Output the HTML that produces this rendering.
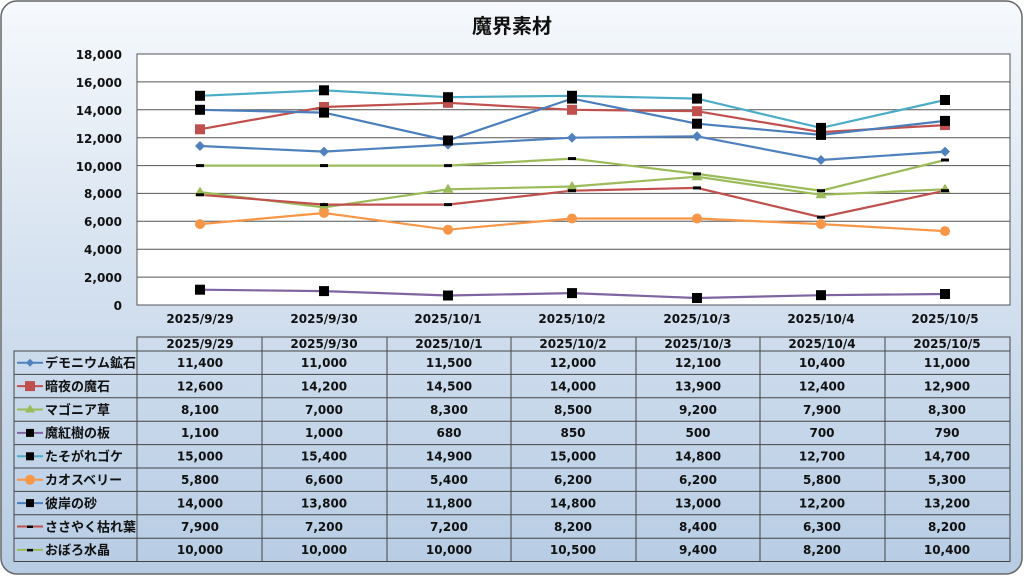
<!DOCTYPE html>
<html><head><meta charset="utf-8"><style>
html,body{margin:0;padding:0;width:1024px;height:576px;overflow:hidden;background:#fff}
svg{display:block}
text{font-family:"DejaVu Sans","Noto Sans CJK JP",sans-serif;font-weight:bold;fill:#111}
</style></head><body>
<svg width="1024" height="576" viewBox="0 0 1024 576" xmlns="http://www.w3.org/2000/svg">
<defs>
<linearGradient id="bg" x1="0" y1="0" x2="0" y2="1">
<stop offset="0" stop-color="#f6f9fc"/><stop offset="0.5" stop-color="#d3e0ef"/><stop offset="1" stop-color="#b7cce4"/>
</linearGradient>
<g id="sq"><rect x="-5" y="-5" width="10" height="10" fill="#000"/></g>
</defs>
<rect x="1" y="1" width="1021" height="573" rx="16" fill="url(#bg)" stroke="#666" stroke-width="1.5"/>
<text x="512" y="33" font-size="20" text-anchor="middle" font-family="Noto Sans CJK JP, sans-serif">魔界素材</text>
<rect x="137" y="54" width="873" height="251" fill="#fff" stroke="#555" stroke-width="1"/>
<g stroke="#555" stroke-width="1">
<line x1="137" x2="1010" y1="277.1" y2="277.1"/><line x1="137" x2="1010" y1="249.2" y2="249.2"/>
<line x1="137" x2="1010" y1="221.3" y2="221.3"/><line x1="137" x2="1010" y1="193.4" y2="193.4"/>
<line x1="137" x2="1010" y1="165.6" y2="165.6"/><line x1="137" x2="1010" y1="137.7" y2="137.7"/>
<line x1="137" x2="1010" y1="109.8" y2="109.8"/><line x1="137" x2="1010" y1="81.9" y2="81.9"/>
</g>
<g font-size="12" text-anchor="end">
<text x="122" y="59">18,000</text><text x="122" y="87">16,000</text><text x="122" y="115">14,000</text>
<text x="122" y="143">12,000</text><text x="122" y="171">10,000</text><text x="122" y="198">8,000</text>
<text x="122" y="226">6,000</text><text x="122" y="254">4,000</text><text x="122" y="282">2,000</text>
<text x="122" y="310">0</text>
</g>
<g font-size="12" text-anchor="middle">
<text x="200" y="323">2025/9/29</text><text x="324" y="323">2025/9/30</text><text x="448" y="323">2025/10/1</text>
<text x="572" y="323">2025/10/2</text><text x="697" y="323">2025/10/3</text><text x="821" y="323">2025/10/4</text><text x="945" y="323">2025/10/5</text>
</g>
<g fill="none" stroke-width="2.2">
<polyline stroke="#4f81bd" points="200,146 324,151.6 448,144.6 572,137.7 697,136.3 821,160 945,151.6"/>
<polyline stroke="#c0504d" points="200,129.3 324,107 448,102.8 572,109.8 697,111.2 821,132.1 945,125.1"/>
<polyline stroke="#9bbb59" points="200,192.1 324,207.4 448,189.3 572,186.5 697,176.7 821,194.8 945,189.3"/>
<polyline stroke="#8064a2" points="200,289.7 324,291.1 448,295.5 572,293.1 697,298 821,295.2 945,294"/>
<polyline stroke="#4bacc6" points="200,95.8 324,90.3 448,97.2 572,95.8 697,98.6 821,127.9 945,100"/>
<polyline stroke="#f79646" points="200,224.1 324,213 448,229.7 572,218.5 697,218.5 821,224.1 945,231.1"/>
<polyline stroke="#4a7ebb" points="200,109.8 324,112.6 448,140.5 572,98.6 697,123.7 821,134.9 945,120.9"/>
<polyline stroke="#c0504d" points="200,194.8 324,204.6 448,204.6 572,190.7 697,187.9 821,217.2 945,190.7"/>
<polyline stroke="#9bbb59" points="200,165.6 324,165.6 448,165.6 572,158.6 697,173.9 821,190.7 945,160"/>
</g>
<g fill="#4f81bd">
<path d="M200,141l5,5l-5,5l-5,-5z"/><path d="M324,146.6l5,5l-5,5l-5,-5z"/><path d="M448,139.6l5,5l-5,5l-5,-5z"/>
<path d="M572,132.7l5,5l-5,5l-5,-5z"/><path d="M697,131.3l5,5l-5,5l-5,-5z"/><path d="M821,155l5,5l-5,5l-5,-5z"/><path d="M945,146.6l5,5l-5,5l-5,-5z"/>
</g>
<g fill="#c0504d">
<rect x="195" y="124.3" width="10" height="10"/><rect x="319" y="102" width="10" height="10"/><rect x="443" y="97.8" width="10" height="10"/>
<rect x="567" y="104.8" width="10" height="10"/><rect x="692" y="106.2" width="10" height="10"/><rect x="816" y="127.1" width="10" height="10"/><rect x="940" y="120.1" width="10" height="10"/>
</g>
<g fill="#9bbb59">
<path d="M200,186.6l5.5,9h-11z"/><path d="M324,201.9l5.5,9h-11z"/><path d="M448,183.8l5.5,9h-11z"/><path d="M572,181l5.5,9h-11z"/>
<path d="M697,171.2l5.5,9h-11z"/><path d="M821,189.3l5.5,9h-11z"/><path d="M945,183.8l5.5,9h-11z"/>
</g>
<g>
<use href="#sq" x="200" y="289.7"/><use href="#sq" x="324" y="291.1"/><use href="#sq" x="448" y="295.5"/><use href="#sq" x="572" y="293.1"/>
<use href="#sq" x="697" y="298"/><use href="#sq" x="821" y="295.2"/><use href="#sq" x="945" y="294"/>
<use href="#sq" x="200" y="95.8"/><use href="#sq" x="324" y="90.3"/><use href="#sq" x="448" y="97.2"/><use href="#sq" x="572" y="95.8"/>
<use href="#sq" x="697" y="98.6"/><use href="#sq" x="821" y="127.9"/><use href="#sq" x="945" y="100"/>
<use href="#sq" x="200" y="109.8"/><use href="#sq" x="324" y="112.6"/><use href="#sq" x="448" y="140.5"/><use href="#sq" x="572" y="98.6"/>
<use href="#sq" x="697" y="123.7"/><use href="#sq" x="821" y="134.9"/><use href="#sq" x="945" y="120.9"/>
</g>
<g fill="#f79646">
<circle cx="200" cy="224.1" r="5"/><circle cx="324" cy="213" r="5"/><circle cx="448" cy="229.7" r="5"/><circle cx="572" cy="218.5" r="5"/>
<circle cx="697" cy="218.5" r="5"/><circle cx="821" cy="224.1" r="5"/><circle cx="945" cy="231.1" r="5"/>
</g>
<g fill="#000">
<rect x="196" y="193.3" width="8" height="3"/><rect x="320" y="203.1" width="8" height="3"/><rect x="444" y="203.1" width="8" height="3"/><rect x="568" y="189.2" width="8" height="3"/>
<rect x="693" y="186.4" width="8" height="3"/><rect x="817" y="215.7" width="8" height="3"/><rect x="941" y="189.2" width="8" height="3"/>
<rect x="196" y="164.1" width="8" height="3"/><rect x="320" y="164.1" width="8" height="3"/><rect x="444" y="164.1" width="8" height="3"/><rect x="568" y="157.1" width="8" height="3"/>
<rect x="693" y="172.4" width="8" height="3"/><rect x="817" y="189.2" width="8" height="3"/><rect x="941" y="158.5" width="8" height="3"/>
</g>
<g stroke="#444" stroke-width="1" fill="none">
<rect x="137" y="337" width="873" height="224.5"/>
<rect x="14" y="351" width="123" height="210.5"/>
<line x1="14" x2="1010" y1="351" y2="351"/><line x1="14" x2="1010" y1="374.4" y2="374.4"/><line x1="14" x2="1010" y1="397.8" y2="397.8"/>
<line x1="14" x2="1010" y1="421.2" y2="421.2"/><line x1="14" x2="1010" y1="444.6" y2="444.6"/><line x1="14" x2="1010" y1="468" y2="468"/>
<line x1="14" x2="1010" y1="491.4" y2="491.4"/><line x1="14" x2="1010" y1="514.8" y2="514.8"/><line x1="14" x2="1010" y1="538.2" y2="538.2"/>
<line x1="262" x2="262" y1="337" y2="561.5"/><line x1="387" x2="387" y1="337" y2="561.5"/><line x1="511" x2="511" y1="337" y2="561.5"/>
<line x1="636" x2="636" y1="337" y2="561.5"/><line x1="760" x2="760" y1="337" y2="561.5"/><line x1="885" x2="885" y1="337" y2="561.5"/>
</g>
<g font-size="12" text-anchor="middle">
<text x="200" y="348">2025/9/29</text><text x="324" y="348">2025/9/30</text><text x="449" y="348">2025/10/1</text>
<text x="573" y="348">2025/10/2</text><text x="698" y="348">2025/10/3</text><text x="822" y="348">2025/10/4</text><text x="947" y="348">2025/10/5</text>
</g>
<g font-size="12" text-anchor="middle">
<g transform="translate(0,367)"><text x="200">11,400</text><text x="324">11,000</text><text x="449">11,500</text><text x="573">12,000</text><text x="698">12,100</text><text x="822">10,400</text><text x="947">11,000</text></g>
<g transform="translate(0,390.4)"><text x="200">12,600</text><text x="324">14,200</text><text x="449">14,500</text><text x="573">14,000</text><text x="698">13,900</text><text x="822">12,400</text><text x="947">12,900</text></g>
<g transform="translate(0,413.8)"><text x="200">8,100</text><text x="324">7,000</text><text x="449">8,300</text><text x="573">8,500</text><text x="698">9,200</text><text x="822">7,900</text><text x="947">8,300</text></g>
<g transform="translate(0,437.2)"><text x="200">1,100</text><text x="324">1,000</text><text x="449">680</text><text x="573">850</text><text x="698">500</text><text x="822">700</text><text x="947">790</text></g>
<g transform="translate(0,460.6)"><text x="200">15,000</text><text x="324">15,400</text><text x="449">14,900</text><text x="573">15,000</text><text x="698">14,800</text><text x="822">12,700</text><text x="947">14,700</text></g>
<g transform="translate(0,484)"><text x="200">5,800</text><text x="324">6,600</text><text x="449">5,400</text><text x="573">6,200</text><text x="698">6,200</text><text x="822">5,800</text><text x="947">5,300</text></g>
<g transform="translate(0,507.4)"><text x="200">14,000</text><text x="324">13,800</text><text x="449">11,800</text><text x="573">14,800</text><text x="698">13,000</text><text x="822">12,200</text><text x="947">13,200</text></g>
<g transform="translate(0,530.8)"><text x="200">7,900</text><text x="324">7,200</text><text x="449">7,200</text><text x="573">8,200</text><text x="698">8,400</text><text x="822">6,300</text><text x="947">8,200</text></g>
<g transform="translate(0,554.2)"><text x="200">10,000</text><text x="324">10,000</text><text x="449">10,000</text><text x="573">10,500</text><text x="698">9,400</text><text x="822">8,200</text><text x="947">10,400</text></g>
</g>
<g stroke-width="2">
<line x1="17" x2="43" y1="362.7" y2="362.7" stroke="#4f81bd"/><path d="M30,358.7l4,4l-4,4l-4,-4z" fill="#4f81bd"/>
<line x1="17" x2="43" y1="386.1" y2="386.1" stroke="#c0504d"/><rect x="25" y="381.1" width="10" height="10" fill="#c0504d"/>
<line x1="17" x2="43" y1="409.5" y2="409.5" stroke="#9bbb59"/><path d="M30,404.5l5,8h-10z" fill="#9bbb59"/>
<line x1="17" x2="43" y1="432.9" y2="432.9" stroke="#8064a2"/><rect x="26" y="428.9" width="8" height="8" fill="#000"/>
<line x1="17" x2="43" y1="456.3" y2="456.3" stroke="#4bacc6"/><rect x="26" y="452.3" width="8" height="8" fill="#000"/>
<line x1="17" x2="43" y1="479.7" y2="479.7" stroke="#f79646"/><circle cx="30" cy="479.7" r="5" fill="#f79646"/>
<line x1="17" x2="43" y1="503.1" y2="503.1" stroke="#4a7ebb"/><rect x="26" y="499.1" width="8" height="8" fill="#000"/>
<line x1="17" x2="43" y1="526.5" y2="526.5" stroke="#c0504d"/><rect x="27" y="525.5" width="6" height="2.5" fill="#000"/>
<line x1="17" x2="43" y1="549.9" y2="549.9" stroke="#9bbb59"/><rect x="27" y="548.9" width="6" height="2.5" fill="#000"/>
</g>
<g font-size="13" font-family="Noto Sans CJK JP, sans-serif">
<text x="45" y="367.5">デモニウム鉱石</text><text x="45" y="390.9">暗夜の魔石</text><text x="45" y="414.3">マゴニア草</text>
<text x="45" y="437.7">魔紅樹の板</text><text x="45" y="461.1">たそがれゴケ</text><text x="45" y="484.5">カオスベリー</text>
<text x="45" y="507.9">彼岸の砂</text><text x="45" y="531.3">ささやく枯れ葉</text><text x="45" y="554.7">おぼろ水晶</text>
</g>
</svg>
</body></html>
